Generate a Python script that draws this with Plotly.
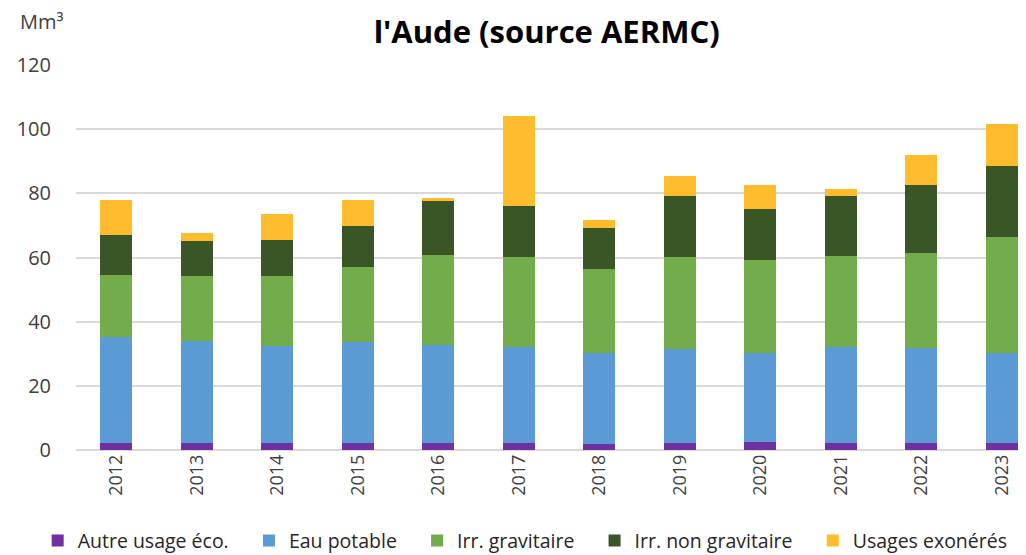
import plotly.graph_objects as go

years = ["2012", "2013", "2014", "2015", "2016", "2017", "2018", "2019", "2020", "2021", "2022", "2023"]
autre_usage = [2.3, 2.1, 2.1, 2.1, 2.1, 2.1, 1.8, 2.1, 2.6, 2.3, 2.1, 2.1]
eau_potable = [32.9, 31.9, 30.4, 31.5, 30.6, 30.1, 28.5, 29.5, 27.7, 29.9, 29.8, 28.0]
irr_gravitaire = [19.5, 20.1, 21.6, 23.5, 28.2, 27.9, 26.2, 28.5, 28.9, 28.2, 29.6, 36.2]
irr_non_gravitaire = [12.4, 11.2, 11.5, 12.7, 16.9, 15.9, 12.8, 19.0, 16.0, 18.7, 21.0, 22.2]
usages_exoneres = [10.7, 2.4, 8.0, 8.0, 0.6, 28.2, 2.4, 6.4, 7.3, 2.3, 9.6, 13.1]

PAD = "\u00a0\u00a0\u00a0"
series = [
    ("Autre usage éco.", autre_usage, "#7030A0"),
    ("Eau potable", eau_potable, "#5B9BD5"),
    ("Irr. gravitaire", irr_gravitaire, "#72AC4B"),
    ("Irr. non gravitaire", irr_non_gravitaire, "#3A5526"),
    ("Usages exonérés", usages_exoneres, "#FFBC2C"),
]

fig = go.Figure()
for name, vals, col in series:
    fig.add_trace(go.Bar(x=years, y=vals, name=name + PAD, marker=dict(color=col, line=dict(width=0))))

fig.update_layout(
    barmode="stack",
    bargap=0.6,
    width=1026,
    height=555,
    paper_bgcolor="white",
    plot_bgcolor="white",
    margin=dict(l=68, r=0, t=57, b=113, autoexpand=False),
    font=dict(family="Open Sans, DejaVu Sans, sans-serif", color="#404040"),
    title=dict(
        text="<b>l'Aude (source AERMC)</b>",
        x=0.525, xanchor="center", y=0.957, yanchor="middle",
        font=dict(size=31, color="#000000", family="Open Sans, DejaVu Sans, sans-serif"),
    ),
    legend=dict(
        orientation="h", x=-0.040, xanchor="left", y=-0.236, yanchor="middle",
        font=dict(size=19.5, color="#262626", family="Open Sans, DejaVu Sans, sans-serif"),
        traceorder="normal",
    ),
    showlegend=True,
)
fig.update_xaxes(
    type="category",
    range=[-0.5, 11.4],
    tickangle=-90,
    tickfont=dict(size=18, color="#404040"),
    showgrid=False,
    showline=False,
    ticks="",
)
fig.update_yaxes(
    range=[0, 120],
    dtick=20,
    tickfont=dict(size=20, color="#404040"),
    showgrid=True,
    gridcolor="#D9D9D9",
    gridwidth=1.5,
    zeroline=True,
    zerolinecolor="#D9D9D9",
    zerolinewidth=1.5,
    ticks="",
    ticklabelstandoff=24,
)
fig.add_annotation(
    text="Mm³", xref="paper", yref="paper", x=-0.0605, y=1.112, xanchor="left", yanchor="middle",
    showarrow=False, font=dict(size=20, color="#404040"),
)
fig.write_html("out.html")
